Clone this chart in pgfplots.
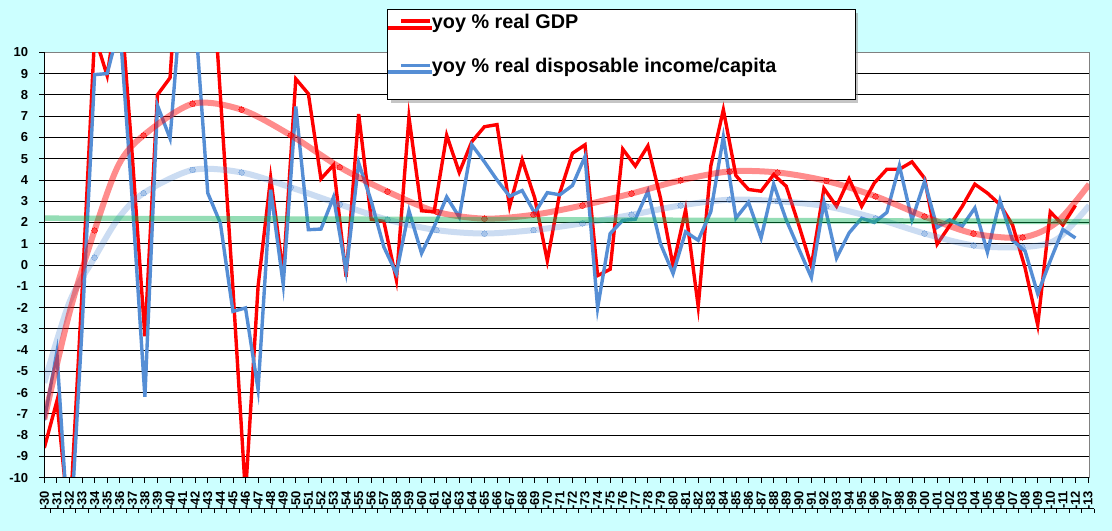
\documentclass[border=0pt]{standalone}
\usepackage{fontspec}
\setmainfont{Liberation Sans}
\usepackage{pgfplots}
\pgfplotsset{compat=1.18}
\usepackage{pgfplotstable}
\usetikzlibrary{shadows}
\definecolor{bgc}{HTML}{CCFFFF}
\definecolor{incb}{RGB}{85,142,213}
\definecolor{grn}{RGB}{0,176,80}
\makeatletter
\tikzset{no preactions/.code={\let\tikz@preactions\pgfutil@empty}}
\makeatother

\pgfplotstableread{
year v
1930 -8.6
1931 -6.4
1932 -12.3
1933 -1.3
1934 10.8
1935 8.9
1936 12.9
1937 5.1
1938 -3.35
1939 8.0
1940 8.8
1941 17.7
1942 18.9
1943 17.0
1944 8.0
1945 -1.1
1946 -10.8
1947 -1.0
1948 4.1
1949 -0.4
1950 8.75
1951 8.05
1952 4.05
1953 4.7
1954 -0.55
1955 7.1
1956 2.15
1957 2.05
1958 -0.7
1959 6.95
1960 2.55
1961 2.5
1962 6.1
1963 4.35
1964 5.8
1965 6.5
1966 6.6
1967 2.75
1968 4.95
1969 3.15
1970 0.2
1971 3.4
1972 5.25
1973 5.65
1974 -0.5
1975 -0.2
1976 5.45
1977 4.65
1978 5.6
1979 3.15
1980 -0.05
1981 2.6
1982 -1.95
1983 4.65
1984 7.3
1985 4.2
1986 3.55
1987 3.47
1988 4.25
1989 3.7
1990 1.88
1991 -0.05
1992 3.6
1993 2.76
1994 4.05
1995 2.76
1996 3.85
1997 4.5
1998 4.5
1999 4.85
2000 4.08
2001 0.98
2002 1.85
2003 2.76
2004 3.8
2005 3.38
2006 2.84
2007 1.88
2008 -0.15
2009 -2.82
2010 2.5
2011 1.88
2012 2.8
}\gdp

\pgfplotstableread{
year v
1930 -7.3
1931 -4.1
1932 -13.5
1933 -3.0
1934 8.95
1935 9.0
1936 11.3
1937 3.0
1938 -6.2
1939 7.5
1940 5.95
1941 13.3
1942 11.7
1943 3.38
1944 1.97
1945 -2.18
1946 -2.02
1947 -5.85
1948 3.54
1949 -0.92
1950 7.45
1951 1.66
1952 1.69
1953 3.19
1954 -0.3
1955 4.8
1956 3.0
1957 0.85
1958 -0.4
1959 2.55
1960 0.55
1961 1.8
1962 3.2
1963 2.25
1964 5.65
1965 4.85
1966 4.0
1967 3.23
1968 3.5
1969 2.44
1970 3.4
1971 3.3
1972 3.74
1973 5.1
1974 -2.02
1975 1.48
1976 2.1
1977 2.15
1978 3.47
1979 1.0
1980 -0.4
1981 1.56
1982 1.16
1983 2.5
1984 6.02
1985 2.2
1986 2.95
1987 1.27
1988 3.8
1989 2.12
1990 0.76
1991 -0.59
1992 2.95
1993 0.33
1994 1.51
1995 2.2
1996 2.0
1997 2.47
1998 4.67
1999 2.12
2000 3.92
2001 1.77
2002 2.12
2003 1.83
2004 2.68
2005 0.6
2006 3.03
2007 1.16
2008 0.65
2009 -1.35
2010 0.2
2011 1.67
2012 1.27
}\inc

\pgfplotstableread{
year v
1930 -7.25
1932 -2.25
1934 1.63
1935.9 4.7
1937.9 6.1
1941.8 7.58
1945.7 7.3
1949.6 6.1
1953.5 4.6
1957.3 3.45
1961.2 2.5
1965.0 2.18
1968.9 2.36
1972.8 2.8
1976.7 3.36
1980.6 3.98
1984.5 4.4
1988.3 4.35
1992.2 3.95
1996.1 3.23
2000.0 2.28
2003.9 1.48
2007.8 1.3
2010.5 2.0
2013.1 3.8
}\gdpsm

\pgfplotstableread{
year v
1934 1.63
1937.9 6.1
1941.8 7.58
1945.7 7.3
1949.6 6.1
1953.5 4.6
1957.3 3.45
1961.2 2.5
1965.0 2.18
1968.9 2.36
1972.8 2.8
1976.7 3.36
1980.6 3.98
1984.5 4.4
1988.3 4.35
1992.2 3.95
1996.1 3.23
2000.0 2.28
2003.9 1.48
2007.8 1.3
}\gdpdots

\pgfplotstableread{
year v
1930 -5.54
1932 -1.75
1934 0.35
1935.9 2.2
1937.9 3.38
1941.8 4.47
1945.7 4.35
1949.6 3.65
1953.5 2.85
1957.3 2.13
1961.2 1.64
1965.0 1.48
1968.9 1.64
1972.8 1.96
1976.7 2.36
1980.6 2.8
1984.5 3.07
1988.3 3.0
1992.2 2.76
1996.1 2.2
2000.0 1.48
2003.9 0.92
2007.8 0.84
2010.5 1.2
2013.1 2.8
}\incsm

\pgfplotstableread{
year v
1934 0.35
1937.9 3.38
1941.8 4.47
1945.7 4.35
1949.6 3.65
1953.5 2.85
1957.3 2.13
1961.2 1.64
1965.0 1.48
1968.9 1.64
1972.8 1.96
1976.7 2.36
1980.6 2.8
1984.5 3.07
1988.3 3.0
1992.2 2.76
1996.1 2.2
2000.0 1.48
2003.9 0.92
2007.8 0.84
}\incdots

\newcommand{\lblfont}{\fontsize{13bp}{15bp}\selectfont\bfseries}

\begin{document}
\begin{tikzpicture}
\useasboundingbox (0,0) rectangle (1112bp,531bp);
\fill[bgc] (0,0) rectangle (1112bp,531bp);
\begin{axis}[
  at={(44.3bp,53.3bp)}, anchor=south west,
  scale only axis, width=1045bp, height=425.4bp,
  xmin=1930, xmax=2013.1, ymin=-10, ymax=10,
  clip mode=individual,
  axis background/.style={fill=white},
  axis line style={draw=gray, line width=0.8bp},
  tick align=outside, major tick length=5bp,
  xtick pos=lower, ytick pos=left,
  tick style={black, line width=0.8bp},
  ymajorgrids, grid style={black, line width=0.8bp},
  ytick={-10,-9,...,10},
  yticklabels={-10,-9,-8,-7,-6,-5,-4,-3,-2,-1,0,1,2,3,4,5,6,7,8,9,10},
  yticklabel style={font=\lblfont, anchor=east, inner sep=0pt, xshift=-11bp},
  xtick={1930,1931,...,2013},
  xticklabels={-30,-31,-32,-33,-34,-35,-36,-37,-38,-39,-40,-41,-42,-43,-44,-45,-46,-47,-48,-49,-50,-51,-52,-53,-54,-55,-56,-57,-58,-59,-60,-61,-62,-63,-64,-65,-66,-67,-68,-69,-70,-71,-72,-73,-74,-75,-76,-77,-78,-79,-80,-81,-82,-83,-84,-85,-86,-87,-88,-89,-90,-91,-92,-93,-94,-95,-96,-97,-98,-99,-00,-01,-02,-03,-04,-05,-06,-07,-08,-09,-10,-11,-12,-13},
  xticklabel style={font=\lblfont, rotate=90, anchor=east, inner ysep=0pt, inner xsep=8bp},
  legend style={at={(0.3279,1.1011)}, anchor=north west, draw=black, line width=1.2bp,
    fill=white, inner xsep=0pt, inner ysep=0pt, row sep=19.9bp,
    nodes={inner sep=0pt},
    font=\fontsize{19.8bp}{22bp}\selectfont\bfseries,
    drop shadow={shadow xshift=3bp, shadow yshift=-3bp, fill=black!45}},
  legend cell align=left,
  legend style={cells={anchor=base west}},
  legend image code/.code={\path[no preactions] (0bp,0bp) rectangle (41bp,1bp); \draw[no preactions,#1] (12bp,7.1bp) -- (41bp,7.1bp);},
]
\addplot[red, line width=3.4bp] table[x=year, y=v] {\gdp};
\addlegendentry[text height=18.4bp, text depth=6bp]{yoy \% real GDP}
\addplot[incb, line width=3.4bp] table[x=year, y=v] {\inc};
\addlegendentry[text height=18.4bp, text depth=27.3bp]{yoy \% real disposable income/capita\hspace*{79bp}}
\addplot[incb, opacity=0.3, line width=6bp, smooth, forget plot] table[x=year, y=v] {\incsm};
\addplot[incb, only marks, mark=*, mark size=2.8bp, opacity=0.3, mark options={fill=incb, draw=incb, line width=0pt}, forget plot] table[x=year, y=v] {\incdots};
\addplot[red, opacity=0.45, line width=6bp, smooth, forget plot] table[x=year, y=v] {\gdpsm};
\addplot[red, only marks, mark=*, mark size=2.8bp, opacity=0.45, mark options={fill=red, draw=red, line width=0pt}, forget plot] table[x=year, y=v] {\gdpdots};
\addplot[grn, opacity=0.42, line width=5.5bp, forget plot] coordinates {(1930,2.2) (2013.1,2.04)};
\draw[black, line width=0.9bp] (rel axis cs:0,0) -- (rel axis cs:0,1);
\draw[black, line width=0.9bp] (rel axis cs:0,0) -- (rel axis cs:1,0);
\draw[black, line width=1.8bp] (axis cs:1929.66,-11.45) -- (axis cs:2013.5,-11.45);
\pgfplotsinvokeforeach{1930,1931,...,2013}{\draw[black, line width=0.9bp] (axis cs:#1.5,-11.45) -- (axis cs:#1.5,-11.65);}
\end{axis}
\end{tikzpicture}
\end{document}
